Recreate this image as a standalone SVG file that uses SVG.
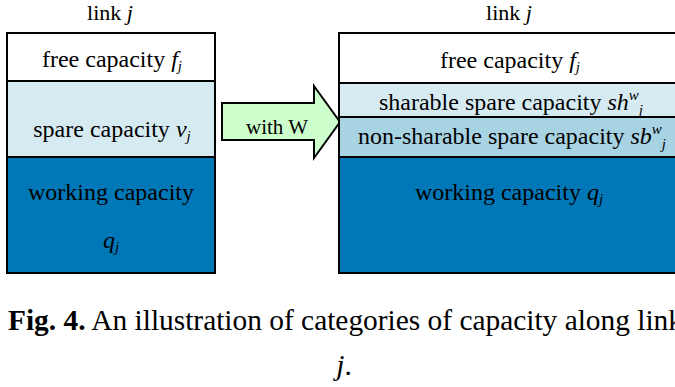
<svg xmlns="http://www.w3.org/2000/svg" width="675" height="387" viewBox="0 0 675 387">
<style>
.t{font-family:"Liberation Serif","Times New Roman",serif;font-size:24px;fill:#000}
.h{font-size:22px}
.i{font-style:italic}
.s{font-size:15px}
.bx{stroke:#000;stroke-width:2}
.free{fill:#fff}
.spare{fill:#D6EAF1}
.nsh{fill:#A8D3E3}
.work{fill:#0078B7}
.cap{font-family:"Liberation Serif","Times New Roman",serif;font-size:29.4px;fill:#000}
</style>
<rect width="675" height="387" fill="#fff"/>
<g id="connectors">
<polygon id="arrow" points="222,103 314,103 314,86 340,122 314,158 314,140 222,140" fill="#CCFFCC" stroke="#000" stroke-width="2"/>
<text x="277" y="134" class="t" style="font-size:21px" text-anchor="middle">with W</text>
</g>
<g id="left-link">
<text class="t h" x="110" y="20" text-anchor="middle">link <tspan class="i">j</tspan></text>
<g id="left-free"><rect class="bx free" x="7" y="33" width="208" height="48"/>
<text class="t" x="112" y="67" text-anchor="middle">free capacity <tspan class="i">f</tspan><tspan class="i s" dy="4">j</tspan></text></g>
<g id="left-spare"><rect class="bx spare" x="7" y="81" width="208" height="76"/>
<text class="t" x="112" y="137" text-anchor="middle">spare capacity <tspan class="i">v</tspan><tspan class="i s" dy="4">j</tspan></text></g>
<g id="left-working"><rect class="bx work" x="7" y="157" width="208" height="116"/>
<text class="t" x="111" y="200" text-anchor="middle">working capacity</text>
<text class="t" x="111" y="248" text-anchor="middle"><tspan class="i">q</tspan><tspan class="i s" dy="4">j</tspan></text></g>
</g>
<g id="right-link">
<text class="t h" x="509" y="20" text-anchor="middle">link <tspan class="i">j</tspan></text>
<g id="right-free"><rect class="bx free" x="339" y="33" width="345" height="50"/>
<text class="t" x="510" y="68" text-anchor="middle">free capacity <tspan class="i">f</tspan><tspan class="i s" dy="4">j</tspan></text></g>
<g id="right-sharable"><rect class="bx spare" x="339" y="83" width="345" height="34"/>
<text class="t" x="511" y="110" text-anchor="middle">sharable spare capacity <tspan class="i">sh</tspan><tspan class="i s" dy="-10">w</tspan><tspan class="i s" dy="15">j</tspan></text></g>
<g id="right-nonsharable"><rect class="bx nsh" x="339" y="117" width="345" height="40"/>
<text class="t" x="512" y="144" text-anchor="middle">non-sharable spare capacity <tspan class="i">sb</tspan><tspan class="i s" dy="-10">w</tspan><tspan class="i s" dy="15">j</tspan></text></g>
<g id="right-working"><rect class="bx work" x="339" y="157" width="345" height="116"/>
<text class="t" x="509" y="200" text-anchor="middle">working capacity <tspan class="i">q</tspan><tspan class="i s" dy="4">j</tspan></text></g>
</g>
<text class="cap" x="8" y="330"><tspan font-weight="bold">Fig. 4.</tspan> An illustration of categories of capacity along link</text>
<text class="cap" x="344" y="375" text-anchor="middle"><tspan class="i">j</tspan>.</text>
</svg>
